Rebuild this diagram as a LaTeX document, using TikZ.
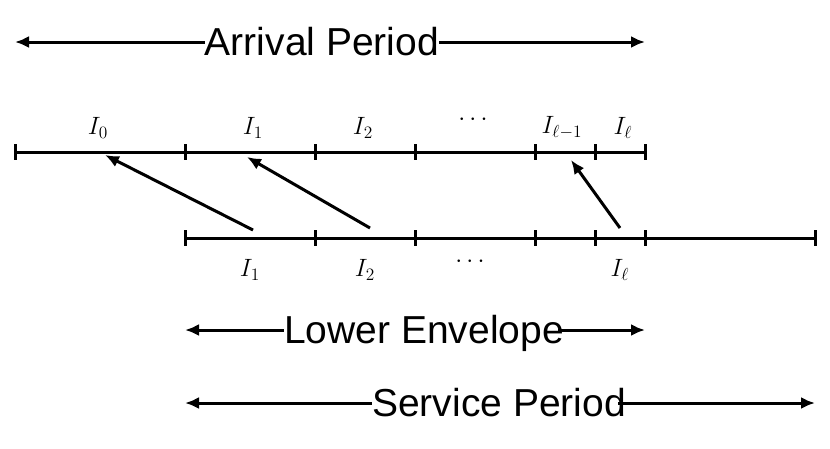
\documentclass[tikz,border=0pt]{standalone}
\usepackage{fontspec}
\setmainfont{Liberation Sans}
\usetikzlibrary{arrows.meta}
\begin{document}
\begin{tikzpicture}[x=1pt,y=-1pt,
  ln/.style={line width=3pt},
  arr/.style={line width=3pt,-{Latex[length=14pt,width=12pt]}},
  lbl/.style={font=\fontsize{39}{46}\selectfont,inner sep=0pt,anchor=base},
  mlbl/.style={font=\LARGE,scale=1.45,inner sep=0pt}]
\useasboundingbox (0,0) rectangle (830,448);
% top timeline
\coordinate (t0) at (15,152); \coordinate (t6) at (645,152);
\draw[ln] (t0) -- (t6);
\foreach \x in {15,185,315,415,535,595,645}{\draw[ln] (\x,144) -- (\x,160);}
% bottom timeline
\coordinate (b0) at (185,238); \coordinate (b6) at (815,238);
\draw[ln] (b0) -- (b6);
\foreach \x in {185,315,415,535,595,645,815}{\draw[ln] (\x,230) -- (\x,246);}
% top labels
\node[mlbl] (u0) at (98,128) {$I_0$};
\node[mlbl] (u1) at (253,128) {$I_1$};
\node[mlbl] (u2) at (363,128) {$I_2$};
\node[mlbl] (u3) at (473,120) {$\cdots$};
\node[mlbl] (u4) at (562,128) {$I_{\ell-1}$};
\node[mlbl] (u5) at (623,128) {$I_\ell$};
% bottom labels
\node[mlbl] (l1) at (250,270) {$I_1$};
\node[mlbl] (l2) at (365,270) {$I_2$};
\node[mlbl] (l3) at (470,262) {$\cdots$};
\node[mlbl] (l5) at (620,270) {$I_\ell$};
% mapping arrows
\coordinate (s1) at (253,230); \coordinate (e1) at (105,155);
\coordinate (s2) at (370,228); \coordinate (e2) at (247,157);
\coordinate (s3) at (620,228); \coordinate (e3) at (571,160);
\draw[arr] (s1) -- (e1);
\draw[arr] (s2) -- (e2);
\draw[arr] (s3) -- (e3);
% period labels
\node[lbl] (ap) at (322,55) {Arrival Period};
\coordinate (apl) at (15,42); \coordinate (apr) at (645,42);
\draw[arr] (ap.west|-apl) -- (apl);
\draw[arr] (ap.east|-apr) -- (apr);
\node[lbl] (le) at (424,343) {Lower Envelope};
\coordinate (lel) at (185,330); \coordinate (ler) at (645,330);
\draw[arr] (le.west|-lel) -- (lel);
\draw[arr] (558,330) -- (ler);
\node[lbl] (sp) at (499,416) {Service Period};
\coordinate (spl) at (185,403); \coordinate (spr) at (815,403);
\draw[arr] (sp.west|-spl) -- (spl);
\draw[arr] (618,403) -- (spr);
\end{tikzpicture}
\end{document}
